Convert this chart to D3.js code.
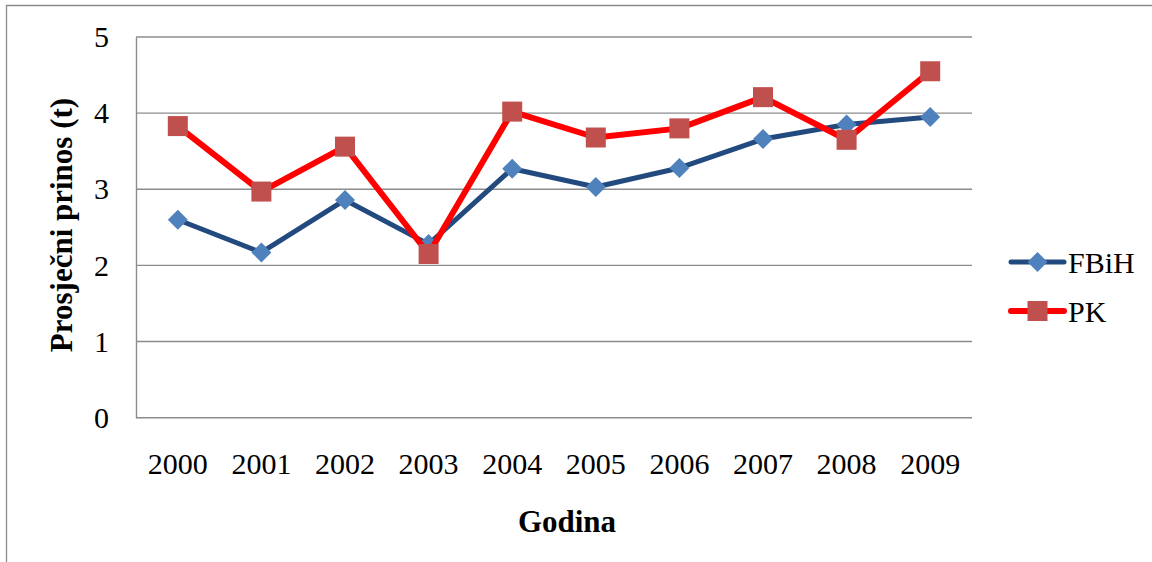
<!DOCTYPE html>
<html><head><meta charset="utf-8">
<script src="https://cdn.jsdelivr.net/npm/d3@7"></script>
<style>body{margin:0;background:#fff}svg{display:block}
svg text{font-family:"Liberation Serif","Times New Roman","DejaVu Serif",serif}</style>
</head><body>
<svg id="c" width="1152" height="562"></svg>
<script>
const years = ["2000","2001","2002","2003","2004","2005","2006","2007","2008","2009"];
const fbih = [2.60, 2.17, 2.86, 2.28, 3.27, 3.03, 3.28, 3.66, 3.85, 3.95];
const pk   = [3.83, 2.97, 3.56, 2.15, 4.02, 3.68, 3.80, 4.21, 3.65, 4.55];
const yTicks = [0, 1, 2, 3, 4, 5];
const seriesNames = ["FBiH", "PK"];

(function () {
const svg = d3.select("#c");
const pLeft = 136, pRight = 972, pTop = 37, pBottom = 417.7;
const x = d3.scaleBand().domain(years).range([pLeft, pRight]);
const y = d3.scaleLinear().domain([0, 5]).range([pBottom, pTop]);

// outer frame
svg.append("path").attr("d", "M6.5,562 V5.5 H1152").attr("fill", "none").attr("stroke", "#8a8a8a").attr("stroke-width", 1.3);

// gridlines
svg.append("g").selectAll("line").data(yTicks).join("line")
  .attr("x1", pLeft).attr("x2", pRight)
  .attr("y1", d => y(d)).attr("y2", d => y(d))
  .attr("stroke", "#8c8c8c").attr("stroke-width", 1.4);

// y axis
const ya = svg.append("g").attr("transform", `translate(${pLeft},0)`)
  .call(d3.axisLeft(y).tickValues(yTicks).tickSize(0).tickPadding(27).tickFormat(d3.format("d")));
ya.attr("font-family", null);
ya.select(".domain").attr("stroke", "#8c8c8c").attr("stroke-width", 1.4);
ya.selectAll("text").attr("font-size", 30).attr("fill", "#000");

// x axis
const xa = svg.append("g").attr("transform", `translate(0,${pBottom})`)
  .call(d3.axisBottom(x).tickSize(0).tickPadding(35));
xa.attr("font-family", null);
xa.select(".domain").remove();
xa.selectAll("text").attr("font-size", 30).attr("fill", "#000");

// titles
svg.append("text").attr("x", 567).attr("y", 532).attr("text-anchor", "middle")
  .attr("font-weight", "bold").attr("font-size", 31).text("Godina");
svg.append("text").attr("transform", "translate(72,225) rotate(-90)").attr("text-anchor", "middle")
  .attr("font-weight", "bold").attr("font-size", 31).text("Prosječni prinos (t)");

const cx = d => x(d) + x.bandwidth() / 2;
const line = d3.line().x(d => cx(d.yr)).y(d => y(d.v));
const fData = years.map((yr, i) => ({yr, v: fbih[i]}));
const pData = years.map((yr, i) => ({yr, v: pk[i]}));

const diamond = (cxp, cyp, r) => `M${cxp},${cyp - r} L${cxp + r},${cyp} L${cxp},${cyp + r} L${cxp - r},${cyp} Z`;

// FBiH
svg.append("path").datum(fData).attr("d", line).attr("fill", "none")
  .attr("stroke", "#234a7f").attr("stroke-width", 5).attr("stroke-linejoin", "round");
svg.append("g").selectAll("path").data(fData).join("path")
  .attr("d", d => diamond(cx(d.yr), y(d.v), 10)).attr("fill", "#4f81bd");

// PK
svg.append("path").datum(pData).attr("d", line).attr("fill", "none")
  .attr("stroke", "#ff0000").attr("stroke-width", 6).attr("stroke-linejoin", "round");
svg.append("g").selectAll("rect").data(pData).join("rect")
  .attr("x", d => cx(d.yr) - 10).attr("y", d => y(d.v) - 10)
  .attr("width", 20).attr("height", 20).attr("fill", "#c0504d");

// legend
const leg = [
  {name: seriesNames[0], y: 262, stroke: "#234a7f", fill: "#4f81bd", shape: "d", w: 5},
  {name: seriesNames[1], y: 311, stroke: "#ff0000", fill: "#c0504d", shape: "s", w: 6}
];
leg.forEach(l => {
  svg.append("line").attr("x1", 1011).attr("x2", 1064).attr("y1", l.y).attr("y2", l.y)
    .attr("stroke", l.stroke).attr("stroke-width", l.w).attr("stroke-linecap", "round");
  if (l.shape === "d") svg.append("path").attr("d", diamond(1037.5, l.y, 10)).attr("fill", l.fill);
  else svg.append("rect").attr("x", 1027.5).attr("y", l.y - 10).attr("width", 20).attr("height", 20).attr("fill", l.fill);
  svg.append("text").attr("x", 1068).attr("y", l.y).attr("dy", "0.35em")
    .attr("font-size", 30).text(l.name);
});
})();
</script>
</body></html>
